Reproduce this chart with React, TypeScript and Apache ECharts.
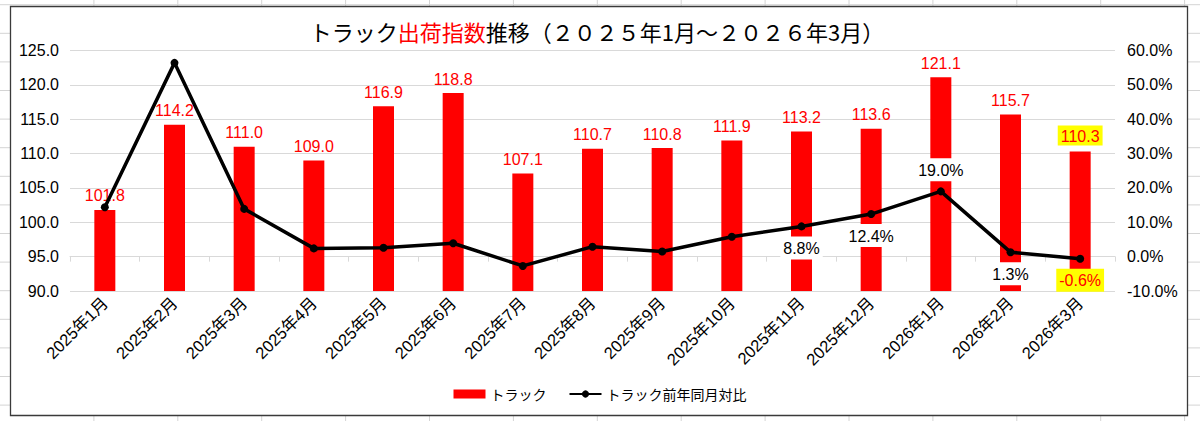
import React, { useEffect, useRef } from 'react';
import * as echarts from 'echarts';

const months = [
  '2025年1月', '2025年2月', '2025年3月', '2025年4月', '2025年5月', '2025年6月', '2025年7月',
  '2025年8月', '2025年9月', '2025年10月', '2025年11月', '2025年12月', '2026年1月', '2026年2月', '2026年3月',
];
const shipIndex = [101.8, 114.2, 111.0, 109.0, 116.9, 118.8, 107.1, 110.7, 110.8, 111.9, 113.2, 113.6, 121.1, 115.7, 110.3];
const yoyPct = [14.4, 56.4, 13.9, 2.4, 2.6, 3.9, -2.7, 2.9, 1.5, 5.8, 8.8, 12.4, 19.0, 1.3, -0.6];
// which yoy points carry a label, and where
const yoyLabelPos: (string | null)[] = [null, null, null, null, null, null, null, null, null, null, 'bottom', 'bottom', 'top', 'bottom', 'bottom'];

const NUM_FONT = '"Liberation Sans", Arial, "Noto Sans CJK JP", sans-serif';
const JP_FONT = '"Noto Sans CJK JP", "Liberation Sans", sans-serif';

function sheetLines() {
  const out: any[] = [];
  for (let x = 10 + 83.9; x < 1200; x += 83.9) {
    out.push({ type: 'line', z: -2, shape: { x1: x, y1: 0, x2: x, y2: 421 }, style: { stroke: '#d4d4d4', lineWidth: 1 } });
  }
  for (let y = 4.7; y < 421; y += 28.6) {
    out.push({ type: 'line', z: -2, shape: { x1: 0, y1: y, x2: 1200, y2: y }, style: { stroke: '#d4d4d4', lineWidth: 1 } });
  }
  return out;
}

const App: React.FC = () => {
  const chartRef = useRef<HTMLDivElement>(null);

  useEffect(() => {
    if (!chartRef.current) return;
    const chart = echarts.init(chartRef.current, undefined, { renderer: 'svg' });

    const lastIdx = shipIndex.length - 1;
    const barData = shipIndex.map((v, i) =>
      i === lastIdx
        ? { value: v, label: { backgroundColor: '#ffff00', padding: [3, 3, 1, 3] } }
        : v
    );
    const lineData = yoyPct.map((v, i) => {
      const pos = yoyLabelPos[i];
      if (!pos) return v;
      const neg = v < 0;
      return {
        value: v,
        label: {
          show: true,
          position: pos,
          distance: 6,
          formatter: (p: any) => Number(p.value).toFixed(1) + '%',
          color: neg ? '#ff0000' : '#000000',
          backgroundColor: neg ? '#ffff00' : '#ffffff',
          padding: [4, 3, 3, 3],
          fontSize: 16,
          fontFamily: NUM_FONT,
          letterSpacing: -0.3,
        },
      };
    });

    const option: echarts.EChartsOption = {
      animation: false,
      backgroundColor: '#ffffff',
      textStyle: { fontFamily: NUM_FONT },
      graphic: [
        ...sheetLines(),
        {
          type: 'rect',
          z: -1,
          shape: { x: 10.5, y: 6.5, width: 1177, height: 409 },
          style: { fill: '#ffffff', stroke: '#3a3a3a', lineWidth: 1.3 },
        },
      ],
      title: {
        text: '{a|トラック}{b|出荷指数}{a|推移（２０２５年1月～２０２６年3月）}',
        left: 592,
        top: 15,
        textAlign: 'center',
        textStyle: {
          fontWeight: 'normal',
          rich: {
            a: { fontSize: 22, color: '#000000', fontFamily: JP_FONT, fontWeight: 'normal' },
            b: { fontSize: 22, color: '#ff0000', fontFamily: JP_FONT, fontWeight: 'normal' },
          },
        },
      },
      legend: {
        bottom: 15,
        left: 'center',
        itemGap: 22,
        itemWidth: 32,
        itemHeight: 9,
        textStyle: { fontSize: 14, color: '#000000', fontFamily: JP_FONT },
        data: [
          { name: 'トラック', icon: 'rect' },
          { name: 'トラック前年同月対比' },
        ],
      },
      grid: { left: 70, right: 85, top: 50.5, bottom: 130 },
      xAxis: {
        type: 'category',
        data: months,
        axisLine: { lineStyle: { color: '#d9d9d9', width: 1 } },
        axisTick: { show: true, length: 5, lineStyle: { color: '#d9d9d9' } },
        axisLabel: {
          rotate: 45,
          fontSize: 16.5,
          letterSpacing: 0.4,
          color: '#000000',
          margin: 9,
          interval: 0,
          fontFamily: NUM_FONT,
        },
      },
      yAxis: [
        {
          type: 'value',
          min: 90,
          max: 125,
          interval: 5,
          axisLine: { show: false },
          axisTick: { show: false },
          splitLine: { lineStyle: { color: '#d9d9d9', width: 1 } },
          axisLabel: {
            fontSize: 16,
            letterSpacing: 0.6,
            color: '#000000',
            margin: 11,
            formatter: (v: number) => v.toFixed(1),
          },
        },
        {
          type: 'value',
          min: -10,
          max: 60,
          interval: 10,
          axisLine: { show: false },
          axisTick: { show: false },
          splitLine: { show: false },
          axisLabel: {
            fontSize: 16,
            letterSpacing: 0.6,
            color: '#000000',
            margin: 12,
            formatter: (v: number) => v.toFixed(1) + '%',
          },
        },
      ],
      series: [
        {
          name: 'トラック',
          type: 'bar',
          data: barData,
          barWidth: 21,
          itemStyle: { color: '#ff0000' },
          label: {
            show: true,
            position: 'top',
            distance: 6,
            color: '#ff0000',
            fontSize: 16,
            fontFamily: NUM_FONT,
            formatter: (p: any) => Number(p.value).toFixed(1),
          },
        },
        {
          name: 'トラック前年同月対比',
          type: 'line',
          yAxisIndex: 1,
          data: lineData,
          symbol: 'circle',
          symbolSize: 8,
          lineStyle: { color: '#000000', width: 3.5 },
          itemStyle: { color: '#000000' },
          z: 3,
        },
      ],
    };

    chart.setOption(option);
    return () => chart.dispose();
  }, []);

  return (
    <div
      ref={chartRef}
      style={{ position: 'absolute', left: 0, top: 0, width: 1200, height: 421 }}
    />
  );
};

export default App;
